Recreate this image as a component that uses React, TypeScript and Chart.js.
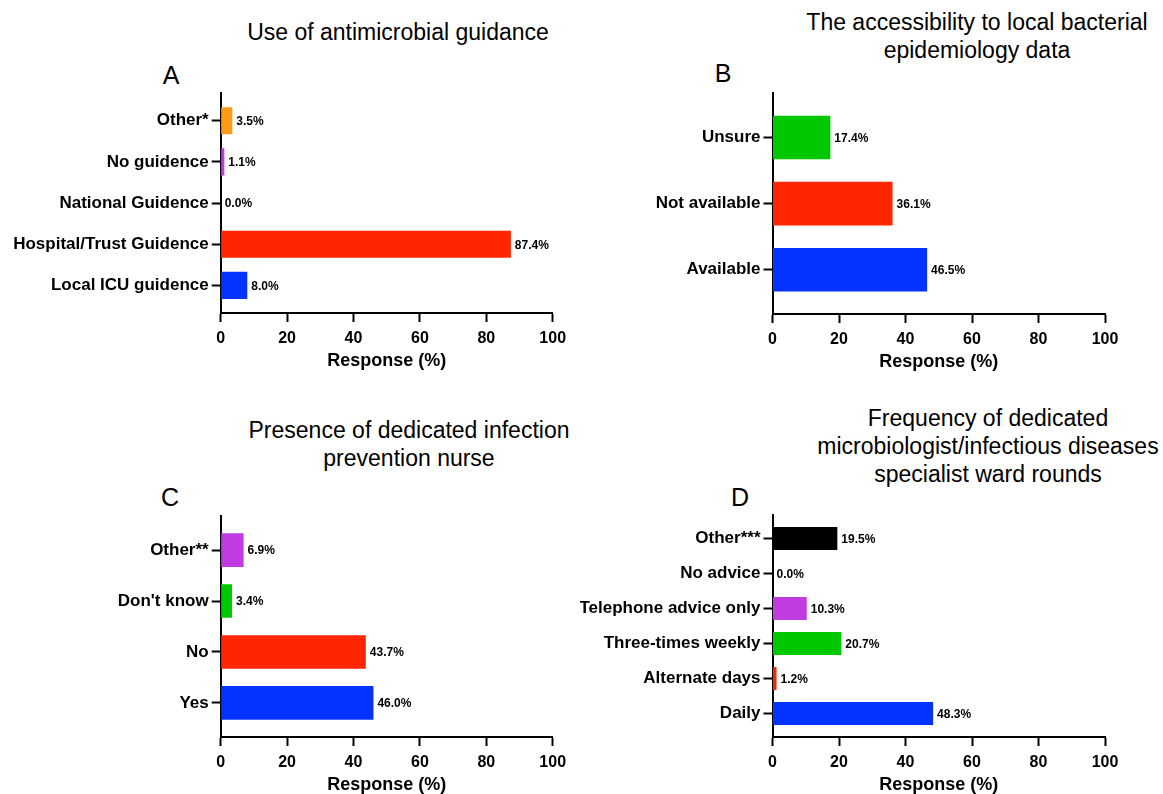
import React, { useEffect, useRef } from "react";
import { Chart, registerables } from "chart.js";

Chart.register(...registerables);

const BLUE = "#0433FF";
const RED = "#FF2600";
const GREEN = "#00C800";
const PURPLE = "#C03BE0";
const ORANGE = "#FF9A1A";
const BLACK = "#000000";

// Panel A (bottom -> top)
const catsA = ["Local ICU guidence", "Hospital/Trust Guidence", "National Guidence", "No guidence", "Other*"];
const valsA = [8.0, 87.4, 0.0, 1.1, 3.5];
const colorsA = [BLUE, RED, BLACK, PURPLE, ORANGE];

// Panel B
const catsB = ["Available", "Not available", "Unsure"];
const valsB = [46.5, 36.1, 17.4];
const colorsB = [BLUE, RED, GREEN];

// Panel C
const catsC = ["Yes", "No", "Don't know", "Other**"];
const valsC = [46.0, 43.7, 3.4, 6.9];
const colorsC = [BLUE, RED, GREEN, PURPLE];

// Panel D
const catsD = ["Daily", "Alternate days", "Three-times weekly", "Telephone advice only", "No advice", "Other***"];
const valsD = [48.3, 1.2, 20.7, 10.3, 0.0, 19.5];
const colorsD = [BLUE, RED, GREEN, PURPLE, ORANGE, BLACK];

const xTickValues = [0, 20, 40, 60, 80, 100];
const xAxisTitle = "Response (%)";

const titleA = ["Use of antimicrobial guidance"];
const titleB = ["The accessibility to local bacterial", "epidemiology data"];
const titleC = ["Presence of dedicated infection", "prevention nurse"];
const titleD = ["Frequency of dedicated", "microbiologist/infectious diseases", "specialist ward rounds"];

const FONT = '"Liberation Sans", Arial, Helvetica, sans-serif';

type Box = { left: number; top: number; width: number; height: number };
type Plot = { left: number; right: number; top: number; bottom: number };
type PanelDef = {
  cats: string[];
  vals: number[];
  colors: string[];
  box: Box;
  plot: Plot;
  axisTitleY: number;
};

function Panel({ def }: { def: PanelDef }) {
  const ref = useRef<HTMLCanvasElement>(null);
  useEffect(() => {
    const { cats, vals, colors, box, plot } = def;
    const padTop = plot.top - box.top;
    const padRight = box.left + box.width - plot.right;
    const yWidth = plot.left - box.left;
    const xHeight = box.top + box.height - plot.bottom;
    const titleSize = 18;
    const titleLH = titleSize * 1.2;
    const titlePadBottom = box.top + box.height - def.axisTitleY - titleLH / 2;

    const labelPlugin = {
      id: "valueLabels",
      afterDatasetsDraw(chart: any) {
        const ctx = chart.ctx;
        const meta = chart.getDatasetMeta(0);
        ctx.save();
        ctx.font = `bold 12px ${FONT}`;
        ctx.fillStyle = "#000";
        ctx.textAlign = "left";
        ctx.textBaseline = "middle";
        meta.data.forEach((el: any, i: number) => {
          ctx.fillText(vals[i].toFixed(1) + "%", el.x + 4, el.y + 1);
        });
        ctx.restore();
      },
    };

    const gridOpts = {
      display: true,
      offset: false,
      drawOnChartArea: false,
      drawTicks: true,
      tickLength: 9,
      tickWidth: 2,
      tickColor: "#000",
    };
    const borderOpts = { display: true, color: "#000", width: 2 };

    const chart = new Chart(ref.current as HTMLCanvasElement, {
      type: "bar",
      data: {
        datasets: [
          {
            data: vals.map((v, i) => ({ x: v, y: i })) as any,
            backgroundColor: colors,
            borderWidth: 0,
            barPercentage: 0.66,
            categoryPercentage: 1,
          },
        ],
      },
      options: {
        indexAxis: "y",
        animation: false,
        responsive: false,
        layout: { padding: { top: padTop, right: padRight, left: 0, bottom: 0 } },
        plugins: {
          legend: { display: false },
          tooltip: { enabled: false },
          title: { display: false },
        },
        scales: {
          x: {
            type: "linear",
            position: "bottom",
            min: 0,
            max: 100,
            offset: false,
            z: 1,
            afterBuildTicks: (s: any) => {
              s.ticks = xTickValues.map((v) => ({ value: v }));
            },
            afterFit: (s: any) => {
              s.height = xHeight;
            },
            grid: gridOpts,
            border: borderOpts,
            ticks: {
              color: "#000",
              font: { family: FONT, size: 16, weight: "bold" },
              padding: 7,
              maxRotation: 0,
              autoSkip: false,
            },
            title: {
              display: true,
              text: xAxisTitle,
              color: "#000",
              font: { family: FONT, size: titleSize, weight: "bold" },
              padding: { top: 0, bottom: titlePadBottom },
            },
          },
          y: {
            type: "linear",
            position: "left",
            min: -0.67,
            max: cats.length - 1 + 0.67,
            offset: false,
            bounds: "data",
            z: 1,
            afterBuildTicks: (s: any) => {
              s.ticks = cats.map((_, i) => ({ value: i }));
            },
            afterFit: (s: any) => {
              s.width = yWidth;
            },
            grid: gridOpts,
            border: borderOpts,
            ticks: {
              color: "#000",
              font: { family: FONT, size: 17, weight: "bold" },
              padding: 3,
              autoSkip: false,
              callback: (v: any) => cats[v as number],
            },
          },
        },
      } as any,
      plugins: [labelPlugin],
    });
    return () => chart.destroy();
  }, [def]);
  return (
    <canvas
      ref={ref}
      width={def.box.width}
      height={def.box.height}
      style={{ position: "absolute", left: def.box.left, top: def.box.top }}
    />
  );
}

function TitleText({ lines, cx, top }: { lines: string[]; cx: number; top: number }) {
  return (
    <div
      style={{
        position: "absolute",
        left: cx - 300,
        top,
        width: 600,
        textAlign: "center",
        fontFamily: FONT,
        fontSize: 23,
        lineHeight: "28px",
        color: "#000",
        whiteSpace: "nowrap",
      }}
    >
      {lines.map((l, i) => (
        <div key={i}>{l}</div>
      ))}
    </div>
  );
}

function Letter({ text, cx, cy }: { text: string; cx: number; cy: number }) {
  return (
    <div
      style={{
        position: "absolute",
        left: cx - 20,
        top: cy - 15,
        width: 40,
        textAlign: "center",
        fontFamily: FONT,
        fontSize: 25,
        lineHeight: "30px",
        color: "#000",
      }}
    >
      {text}
    </div>
  );
}

const panelA: PanelDef = {
  cats: catsA,
  vals: valsA,
  colors: colorsA,
  box: { left: 0, top: 80, width: 580, height: 300 },
  plot: { left: 220.7, right: 552.7, top: 91, bottom: 313 },
  axisTitleY: 361,
};
const panelB: PanelDef = {
  cats: catsB,
  vals: valsB,
  colors: colorsB,
  box: { left: 580, top: 80, width: 583, height: 300 },
  plot: { left: 772.5, right: 1105, top: 93, bottom: 314 },
  axisTitleY: 362,
};
const panelC: PanelDef = {
  cats: catsC,
  vals: valsC,
  colors: colorsC,
  box: { left: 0, top: 500, width: 580, height: 310 },
  plot: { left: 220.7, right: 552.7, top: 516, bottom: 737 },
  axisTitleY: 785,
};
const panelD: PanelDef = {
  cats: catsD,
  vals: valsD,
  colors: colorsD,
  box: { left: 580, top: 500, width: 583, height: 310 },
  plot: { left: 772.5, right: 1105, top: 515, bottom: 737 },
  axisTitleY: 785,
};

export default function App() {
  return (
    <div style={{ position: "absolute", left: 0, top: 0, width: 1163, height: 794, background: "#fff", overflow: "hidden" }}>
      <TitleText lines={titleA} cx={398} top={18} />
      <TitleText lines={titleB} cx={977} top={8} />
      <TitleText lines={titleC} cx={409} top={416} />
      <TitleText lines={titleD} cx={988} top={404} />
      <Letter text="A" cx={171} cy={75} />
      <Letter text="B" cx={723} cy={73} />
      <Letter text="C" cx={170} cy={497} />
      <Letter text="D" cx={740} cy={497} />
      <Panel def={panelA} />
      <Panel def={panelB} />
      <Panel def={panelC} />
      <Panel def={panelD} />
    </div>
  );
}
